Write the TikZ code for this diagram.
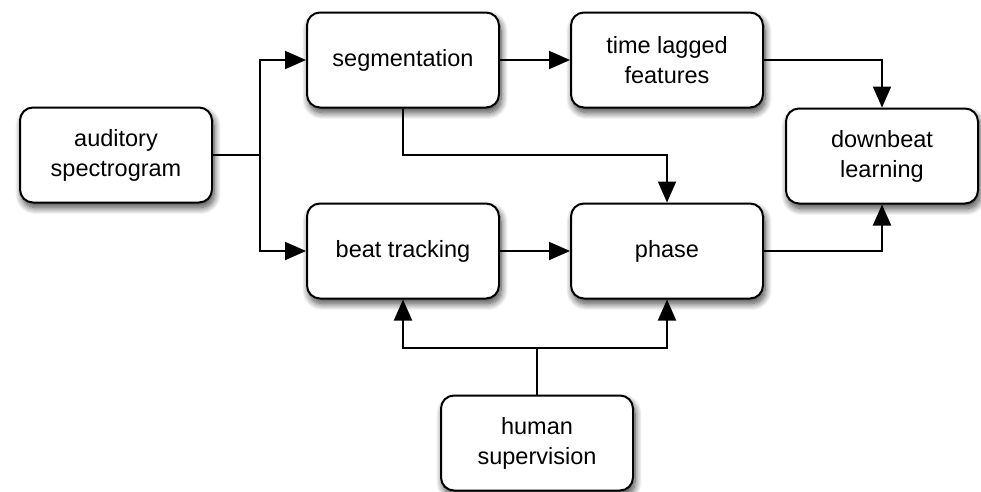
\documentclass[tikz,border=0pt]{standalone}
\usepackage{fontspec}
\setmainfont{Liberation Sans}
\usetikzlibrary{arrows.meta,shadows.blur}
\begin{document}
\begin{tikzpicture}[x=1pt,y=-1pt,
  box/.style={draw,line width=2pt,rounded corners=13pt,fill=white,
    minimum width=192pt,minimum height=95pt,align=center,
    font=\fontsize{23.5}{30}\selectfont,
    blur shadow={shadow xshift=2pt,shadow yshift=-5pt,shadow blur radius=7pt,shadow blur steps=14,shadow opacity=75}},
  conn/.style={line width=2pt,-{Triangle[length=21pt,width=18pt]}},
  plain/.style={line width=2pt}]
\useasboundingbox (0,0) rectangle (981,491);
\node[box] (aud) at (116,155) {auditory\\spectrogram};
\node[box] (seg) at (403,60) {segmentation};
\node[box] (tlf) at (667,60) {time lagged\\features};
\node[box] (dbl) at (882,156) {downbeat\\learning};
\node[box] (bt) at (403,251) {beat tracking};
\node[box] (ph) at (667,251) {phase};
\node[box] (hs) at (537,443) {human\\supervision};
\coordinate (j1) at (260,155);
\coordinate (j2) at (537,348);
\draw[plain] (aud.east) -- (j1);
\draw[conn] (j1) |- (seg.west);
\draw[conn] (j1) |- (bt.west);
\draw[conn] (seg) -- (tlf);
\draw[conn] (seg.south) |- (667,155) -- (ph.north);
\draw[conn] (tlf.east) -| (dbl.north);
\draw[conn] (bt) -- (ph);
\draw[conn] (ph.east) -| (dbl.south);
\draw[plain] (hs.north) -- (j2);
\draw[conn] (j2) -| (bt.south);
\draw[conn] (j2) -| (ph.south);
\end{tikzpicture}
\end{document}
